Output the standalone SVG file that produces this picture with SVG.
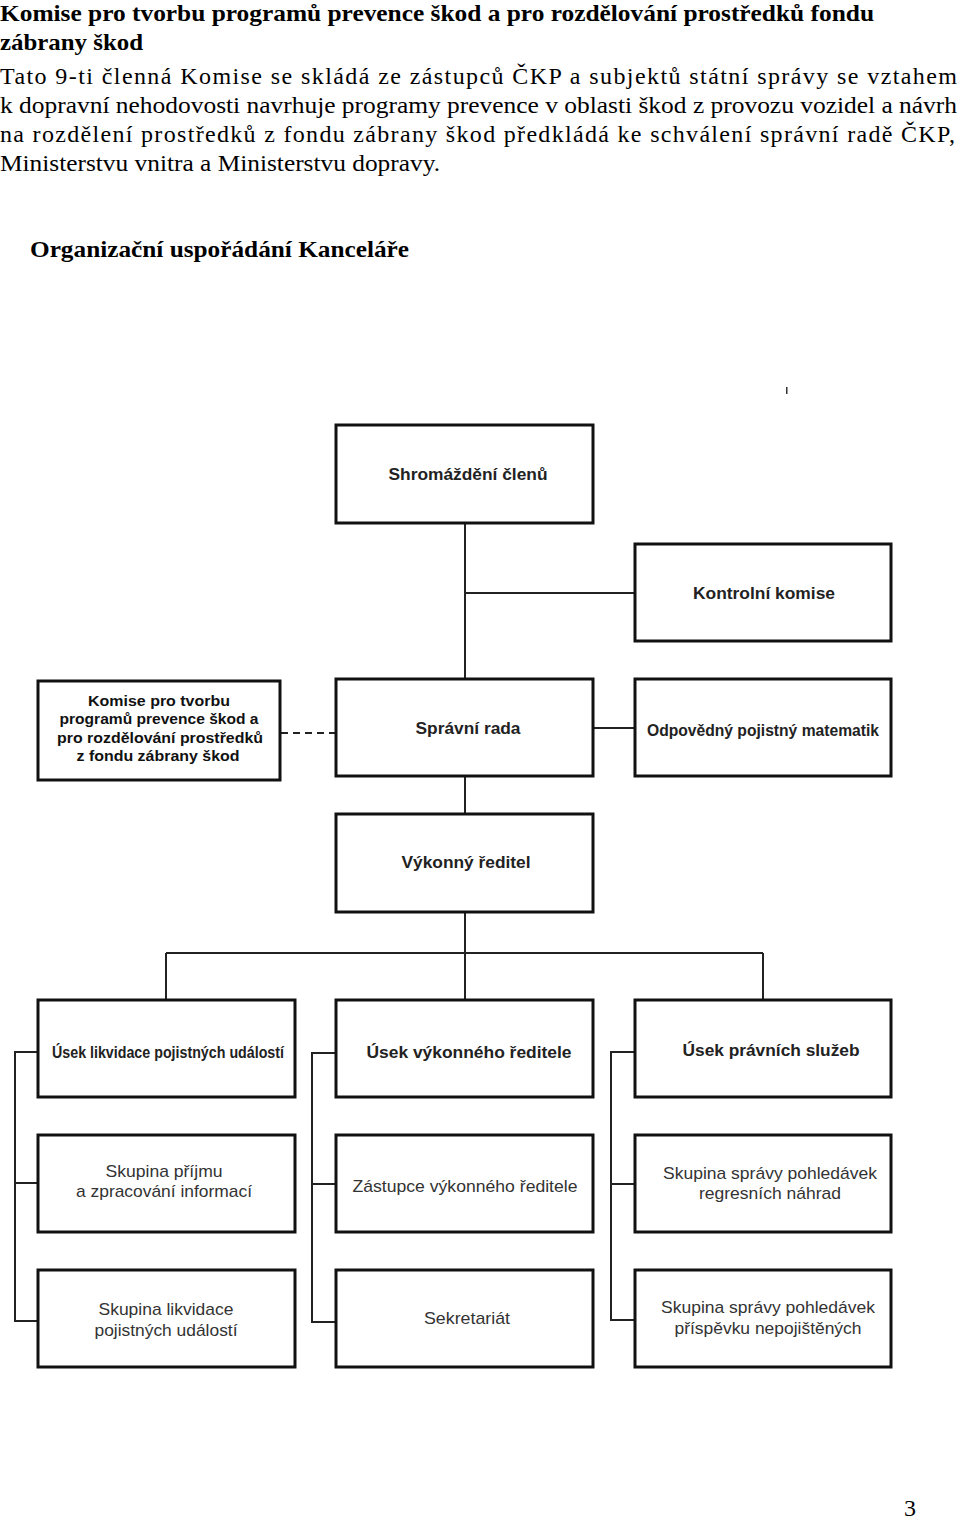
<svg xmlns="http://www.w3.org/2000/svg" width="960" height="1519" viewBox="0 0 960 1519">
<style>
.h{font-family:"Liberation Serif",serif;font-weight:bold;font-size:24px;fill:#000}
.b{font-family:"Liberation Serif",serif;font-size:24px;fill:#000}
.box{fill:#fff;stroke:#111;stroke-width:3}
.t1{font-family:"Liberation Sans",Arial,sans-serif;font-weight:bold;font-size:16px;fill:#222;text-anchor:middle;dominant-baseline:central}
.t2{font-family:"Liberation Sans",Arial,sans-serif;font-size:17px;fill:#333;text-anchor:middle;dominant-baseline:central}
.t3{font-family:"Liberation Sans",Arial,sans-serif;font-weight:bold;font-size:15.5px;fill:#111;text-anchor:middle;dominant-baseline:central}
.c{fill:none;stroke:#222;stroke-width:2}
.d{fill:none;stroke:#222;stroke-width:2;stroke-dasharray:7,5}
</style>
<rect width="960" height="1519" fill="#fff"/>
<g id="header">
<text class="h" x="0" y="21" textLength="874" lengthAdjust="spacingAndGlyphs">Komise pro tvorbu programů prevence škod a pro rozdělování prostředků fondu</text>
<text class="h" x="0" y="50" textLength="143" lengthAdjust="spacingAndGlyphs">zábrany škod</text>
<text class="b" x="0" y="84" textLength="957" lengthAdjust="spacing">Tato 9-ti členná Komise se skládá ze zástupců ČKP a subjektů státní správy se vztahem</text>
<text class="b" x="0" y="113" textLength="957" lengthAdjust="spacingAndGlyphs">k dopravní nehodovosti navrhuje programy prevence v oblasti škod z provozu vozidel a návrh</text>
<text class="b" x="0" y="142" textLength="955" lengthAdjust="spacing">na rozdělení prostředků z fondu zábrany škod předkládá ke schválení správní radě ČKP,</text>
<text class="b" x="0" y="171" textLength="440" lengthAdjust="spacingAndGlyphs">Ministerstvu vnitra a Ministerstvu dopravy.</text>
<text class="h" x="30" y="257" textLength="379" lengthAdjust="spacingAndGlyphs">Organizační uspořádání Kanceláře</text>
<rect x="786" y="387" width="1.5" height="7" fill="#333"/>
<text class="b" x="904" y="1516">3</text>
</g>
<g id="connectors">
<path class="c" d="M465 524V678M465 593H634M594 728H634M465 777V813M465 913V999M166 953H763M166 953V999M763 953V999"/>
<path class="d" d="M281 733H335"/>
<path class="c" d="M37 1052H15V1321H37M15 1183H37"/>
<path class="c" d="M335 1053H312V1322H335M312 1184H335"/>
<path class="c" d="M634 1052H611V1320H634M611 1184H634"/>
</g>
<g id="n-shromazdeni"><rect class="box" x="336" y="425" width="257" height="98"/><text class="t1" x="468" y="474" textLength="159" lengthAdjust="spacingAndGlyphs">Shromáždění členů</text></g>
<g id="n-kontrolni"><rect class="box" x="635" y="544" width="256" height="97"/><text class="t1" x="764" y="593" textLength="142" lengthAdjust="spacingAndGlyphs">Kontrolní komise</text></g>
<g id="n-komise"><rect class="box" x="38" y="681" width="242" height="99"/>
<text class="t3" x="159" y="700" textLength="142" lengthAdjust="spacingAndGlyphs">Komise pro tvorbu</text>
<text class="t3" x="159" y="718" textLength="199" lengthAdjust="spacingAndGlyphs">programů prevence škod a</text>
<text class="t3" x="160" y="737" textLength="206" lengthAdjust="spacingAndGlyphs">pro rozdělování prostředků</text>
<text class="t3" x="158" y="755" textLength="163" lengthAdjust="spacingAndGlyphs">z fondu zábrany škod</text></g>
<g id="n-spravni"><rect class="box" x="336" y="679" width="257" height="97"/><text class="t1" x="468" y="728" textLength="105" lengthAdjust="spacingAndGlyphs">Správní rada</text></g>
<g id="n-odpovedny"><rect class="box" x="635" y="679" width="256" height="97"/><text class="t1" x="763" y="730" textLength="232" lengthAdjust="spacingAndGlyphs">Odpovědný pojistný matematik</text></g>
<g id="n-vykonny"><rect class="box" x="336" y="814" width="257" height="98"/><text class="t1" x="466" y="862" textLength="129" lengthAdjust="spacingAndGlyphs">Výkonný ředitel</text></g>
<g id="n-usek-likv"><rect class="box" x="38" y="1000" width="257" height="97"/><text class="t1" x="168" y="1052" textLength="232" lengthAdjust="spacingAndGlyphs">Úsek likvidace pojistných událostí</text></g>
<g id="n-usek-ved"><rect class="box" x="336" y="1000" width="257" height="97"/><text class="t1" x="469" y="1052" textLength="205" lengthAdjust="spacingAndGlyphs">Úsek výkonného ředitele</text></g>
<g id="n-usek-prav"><rect class="box" x="635" y="1000" width="256" height="97"/><text class="t1" x="771" y="1050" textLength="177" lengthAdjust="spacingAndGlyphs">Úsek právních služeb</text></g>
<g id="n-prijem"><rect class="box" x="38" y="1135" width="257" height="97"/><text class="t2" x="164" y="1171" textLength="117" lengthAdjust="spacingAndGlyphs">Skupina příjmu</text><text class="t2" x="164" y="1191" textLength="176" lengthAdjust="spacingAndGlyphs">a zpracování informací</text></g>
<g id="n-zastupce"><rect class="box" x="336" y="1135" width="257" height="97"/><text class="t2" x="465" y="1186" textLength="225" lengthAdjust="spacingAndGlyphs">Zástupce výkonného ředitele</text></g>
<g id="n-regres"><rect class="box" x="635" y="1135" width="256" height="97"/><text class="t2" x="770" y="1173" textLength="214" lengthAdjust="spacingAndGlyphs">Skupina správy pohledávek</text><text class="t2" x="770" y="1193" textLength="142" lengthAdjust="spacingAndGlyphs">regresních náhrad</text></g>
<g id="n-likv"><rect class="box" x="38" y="1270" width="257" height="97"/><text class="t2" x="166" y="1309" textLength="135" lengthAdjust="spacingAndGlyphs">Skupina likvidace</text><text class="t2" x="166" y="1330" textLength="143" lengthAdjust="spacingAndGlyphs">pojistných událostí</text></g>
<g id="n-sekretariat"><rect class="box" x="336" y="1270" width="257" height="97"/><text class="t2" x="467" y="1318" textLength="86" lengthAdjust="spacingAndGlyphs">Sekretariát</text></g>
<g id="n-prispevek"><rect class="box" x="635" y="1270" width="256" height="97"/><text class="t2" x="768" y="1307" textLength="214" lengthAdjust="spacingAndGlyphs">Skupina správy pohledávek</text><text class="t2" x="768" y="1328" textLength="187" lengthAdjust="spacingAndGlyphs">příspěvku nepojištěných</text></g>
</svg>
